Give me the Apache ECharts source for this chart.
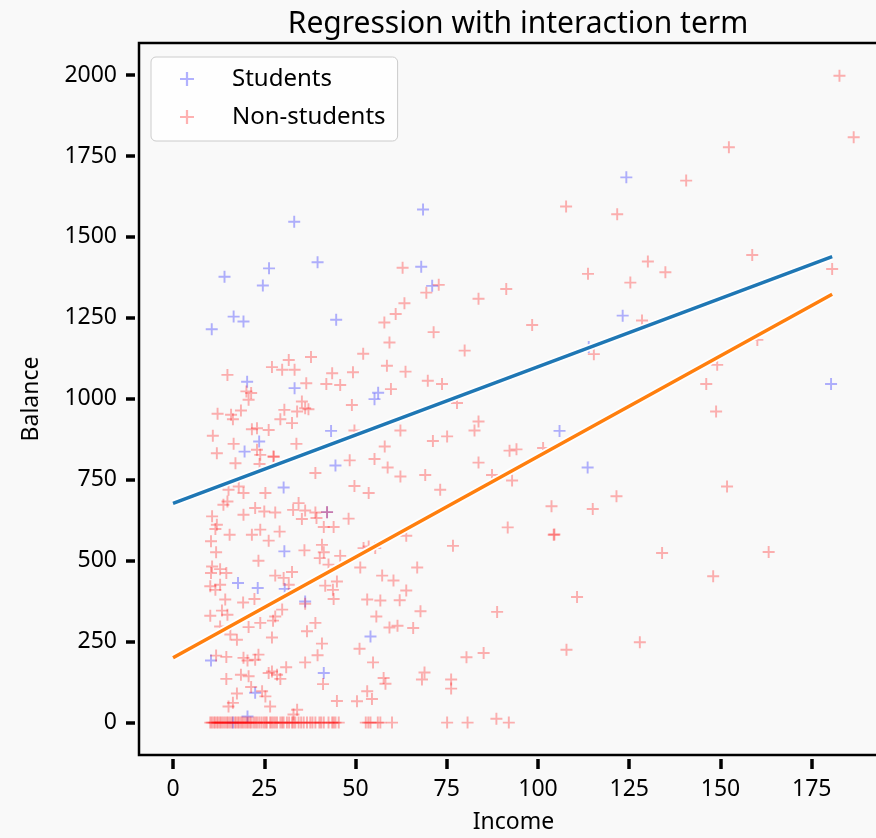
<!DOCTYPE html>
<html>
<head>
<meta charset="utf-8">
<script src="https://cdn.jsdelivr.net/npm/echarts@6/dist/echarts.min.js"></script>
<style>
  html, body { margin: 0; padding: 0; background: #f9f9f9; }
  #chart { width: 876px; height: 838px; }
</style>
</head>
<body>
<div id="chart"></div>
<script>
// Credit balance vs income, students and non-students, with fitted lines
// from a regression that includes an income x student interaction.

const xTicks = [0, 25, 50, 75, 100, 125, 150, 175];
const yTicks = [0, 250, 500, 750, 1000, 1250, 1500, 1750, 2000];

// [income, balance] for students
const studentPoints = [
  [33.2,1547],[26.3,1403],[14.1,1377],[24.6,1350],[16.6,1254],[19.3,1239],[10.6,1215],
  [68.5,1585],[39.6,1422],[68.0,1408],[71.0,1349],[44.7,1244],
  [20.3,1053],[33.3,1033],[23.6,868],[19.6,837],[30.3,726],
  [30.5,529],[17.8,431],[23.2,416],[30.6,413],[10.4,192],[22.5,92],[20.4,19],[16.4,0],
  [56.2,1019],[55.2,999],[43.3,901],[44.5,794],[42.2,650],
  [36.2,374],[54.1,266],[41.3,153],
  [124.2,1684],[123.2,1257],[113.9,1160],[180.3,1046],
  [105.9,901],[113.6,788]
];

// [income, balance] for non-students with a positive balance
const nonStudentPoints = [
  [62.9,1405],[72.8,1352],[69.4,1328],[63.4,1295],[61.0,1262],[57.9,1236],[71.4,1206],
  [14.9,1074],[31.7,1120],[27.1,1098],[29.9,1090],[33.3,1090],[20.1,1023],[21.4,1018],[20.7,997],
  [12.2,954],[15.9,951],[16.4,937],[18.6,964],[30.5,966],[29.4,937],[32.6,925],[34.0,961],
  [21.6,906],[23.0,909],[26.2,904],[10.9,886],[16.6,861],[12.0,832],[23.0,843],[23.9,827],
  [27.5,822],[27.6,821],[17.1,801],[23.7,799],[33.8,861],[18.0,729],[19.3,709],[15.2,719],[25.3,709],
  [14.9,683],[13.8,673],[10.7,637],[19.3,642],[22.5,663],[25.0,652],[28.0,649],[32.9,657],
  [34.4,678],[12.0,611],[11.6,598],[23.9,596],[15.5,580],[21.6,580],[29.2,590],[10.4,560],[26.2,562],
  [11.8,526],[23.4,500],[10.7,482],[12.9,474],[14.6,462],[10.4,462],[28.0,454],[32.6,465],
  [30.3,447],[10.2,421],[12.9,426],[11.6,410],[31.7,426],[14.3,380],[19.2,371],[22.3,382],
  [13.4,346],[14.9,333],[10.2,330],[29.9,349],[28.0,328],[27.4,315],[23.9,308],[20.7,295],
  [12.9,297],[15.7,272],[17.5,256],[27.1,263],[11.8,207],[14.6,203],[19.3,200],[20.4,192],
  [23.4,210],[22.5,194],[27.1,158],[26.2,153],[28.5,148],[29.4,135],[31.0,171],[18.6,148],
  [20.7,143],[14.6,135],[21.4,110],[24.4,97],[25.3,81],[17.5,90],[16.4,61],[15.2,50],
  [26.6,50],[34.0,40],[33.0,25],
  [59.3,1174],[52.1,1139],[37.8,1129],[43.6,1079],[49.3,1082],[58.6,1102],[63.7,1084],
  [36.5,1048],[42.0,1046],[45.8,1043],[69.8,1056],[73.7,1046],[59.7,1030],[49.0,981],
  [35.3,992],[37.1,968],[36.2,971],[77.8,987],[62.3,902],[49.7,902],[71.2,870],[75.1,884],
  [58.0,853],[55.2,814],[48.4,810],[58.8,788],[62.3,760],[69.1,765],[39.0,771],[49.7,731],
  [53.6,709],[73.2,719],[36.2,655],[39.0,649],[42.2,650],[35.3,629],[39.3,632],[48.1,630],
  [41.3,604],[44.0,604],[63.9,577],
  [36.0,532],[40.8,549],[41.3,526],[40.2,508],[45.8,515],[42.6,488],[52.2,539],[53.6,544],
  [55.4,539],[76.7,546],[51.3,479],[66.9,479],[57.3,454],[60.4,439],[63.9,408],[41.7,423],
  [44.9,436],[43.8,410],[44.0,382],[53.2,380],[56.8,377],[62.1,378],[67.8,344],[36.2,367],
  [55.7,328],[59.3,294],[61.5,299],[65.8,292],[39.0,308],[36.7,282],[40.8,244],[39.6,208],
  [51.1,228],[36.2,186],[54.8,186],[41.1,119],[57.7,138],[58.2,120],[68.9,155],[68.2,133],
  [76.2,133],[76.2,105],[53.2,97],[54.5,73],[44.9,67],[50.4,66],
  [182.6,1998],[186.5,1808],[152.3,1777],[140.6,1674],[107.7,1594],[121.7,1570],[130.1,1424],
  [158.7,1444],[113.7,1386],[134.9,1391],[125.3,1359],[180.6,1401],[91.3,1339],[83.7,1309],
  [128.5,1242],[98.4,1228],[79.9,1149],[115.3,1138],[149.1,1105],[146.1,1046],[160.1,1182],
  [148.8,961],[83.7,930],[82.6,902],[92.2,840],[94.1,844],[101.4,848],[83.7,803],[87.4,765],
  [92.9,748],[151.8,729],[121.5,699],[103.7,668],[115.0,660],[91.7,603],[104.3,580],[104.5,581],
  [134.0,524],[163.2,527],[148.0,452],[110.7,388],[88.8,342],[127.9,248],[107.8,225],[80.4,202],
  [85.1,215],[88.6,12]
];

// incomes of non-students carrying a zero balance
const nonStudentZeroIncome = [
  10.2,10.6,11.1,11.5,12.0,12.4,12.9,13.3,13.8,14.3,14.8,15.2,15.7,16.2,16.9,17.3,17.8,18.2,
  18.7,19.1,19.6,20.1,20.5,21.0,21.4,22.0,22.5,23.0,23.6,24.2,24.8,25.3,25.7,26.6,27.0,27.5,
  28.0,28.5,29.4,29.9,30.3,31.2,31.8,32.6,33.0,33.5,34.4,35.1,35.8,36.7,37.6,38.2,39.0,40.1,
  40.6,41.3,42.6,43.6,44.0,44.5,45.4,52.8,53.5,54.1,56.1,56.8,60.0,75.1,80.7,92.0
];

// fitted lines: balance at the two ends of the income range
const fitIncome = [0, 180.6];
const studentFit = [677.3, 1439];
const nonStudentFit = [200.6, 1323];

const FONT = 'Noto Sans';
const PLUS = 'path://M4.2,0H5.8V4.2H10V5.8H5.8V10H4.2V5.8H0V4.2H4.2Z';

const nonStudentAll = nonStudentPoints.concat(nonStudentZeroIncome.map(x => [x, 0]));
const pairs = (xs, ys) => xs.map((x, i) => [x, ys[i]]);

const chart = echarts.init(document.getElementById('chart'), null, { renderer: 'canvas' });

chart.setOption({
  backgroundColor: '#f9f9f9',
  animation: false,
  title: {
    text: 'Regression with interaction term',
    left: 513,
    textAlign: 'center',
    top: 4,
    textStyle: { fontFamily: FONT, fontSize: 30, fontWeight: 'normal', color: '#000' }
  },
  grid: {
    left: 139, top: 43, width: 749, height: 712,
    outerBoundsMode: 'none',
    show: true, borderColor: '#000', borderWidth: 2.5, backgroundColor: 'transparent'
  },
  legend: {
    left: 151, top: 57,
    orient: 'vertical',
    data: ['Students', 'Non-students'],
    itemWidth: 14, itemHeight: 14, itemGap: 14,
    padding: [10, 12, 12, 29],
    backgroundColor: 'rgba(255,255,255,0.8)',
    borderColor: '#cccccc', borderWidth: 1, borderRadius: 5,
    textStyle: { fontFamily: FONT, fontSize: 24, color: '#000', lineHeight: 24, padding: [0, 0, 0, 33] }
  },
  xAxis: {
    type: 'value', min: -9.33, max: 195.9, offset: 4,
    axisLine: { show: false, onZero: false },
    splitLine: { show: false },
    axisTick: { customValues: xTicks, length: 10, lineStyle: { color: '#000', width: 3.5 } },
    axisLabel: { customValues: xTicks, margin: 19, fontFamily: FONT, fontSize: 23, color: '#000',
                 formatter: v => String(v) },
    name: 'Income', nameLocation: 'middle', nameGap: 52,
    nameTextStyle: { fontFamily: FONT, fontSize: 23, color: '#000' }
  },
  yAxis: {
    type: 'value', min: -100, max: 2099, offset: 4,
    axisLine: { show: false, onZero: false },
    splitLine: { show: false },
    axisTick: { customValues: yTicks, length: 9, lineStyle: { color: '#000', width: 3.5 } },
    axisLabel: { customValues: yTicks, margin: 18, fontFamily: FONT, fontSize: 23, color: '#000',
                 formatter: v => String(v) },
    name: 'Balance', nameLocation: 'middle', nameGap: 92,
    nameTextStyle: { fontFamily: FONT, fontSize: 23, color: '#000' }
  },
  series: [
    {
      name: 'Students', type: 'scatter', data: studentPoints,
      symbol: PLUS, symbolSize: 12,
      itemStyle: { color: '#0000ff', opacity: 0.3 }, z: 2
    },
    {
      name: 'Non-students', type: 'scatter', data: nonStudentAll,
      symbol: PLUS, symbolSize: 12,
      itemStyle: { color: '#ff0000', opacity: 0.3 }, z: 2
    },
    {
      name: 'student-fit-halo', type: 'line', data: pairs(fitIncome, studentFit),
      showSymbol: false, silent: true, lineStyle: { color: '#ffffff', width: 7 }, z: 3
    },
    {
      name: 'student-fit', type: 'line', data: pairs(fitIncome, studentFit),
      showSymbol: false, lineStyle: { color: '#1f77b4', width: 3.5 }, z: 4
    },
    {
      name: 'non-student-fit-halo', type: 'line', data: pairs(fitIncome, nonStudentFit),
      showSymbol: false, silent: true, lineStyle: { color: '#ffffff', width: 7 }, z: 3
    },
    {
      name: 'non-student-fit', type: 'line', data: pairs(fitIncome, nonStudentFit),
      showSymbol: false, lineStyle: { color: '#ff7f0e', width: 3.5 }, z: 4
    }
  ]
});
</script>
</body>
</html>
